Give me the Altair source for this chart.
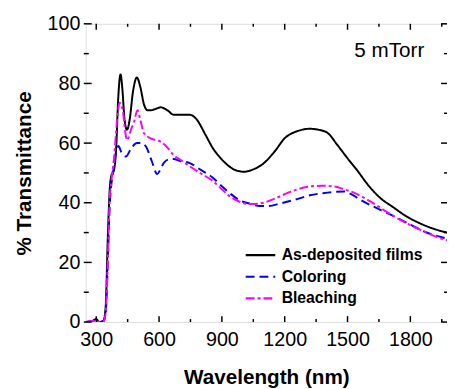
import altair as alt
import pandas as pd

series_names = ["As-deposited films", "Coloring", "Bleaching"]
series_colors = ["#000000", "#0000ff", "#ff00ff"]

asdep_nm = [250, 280, 300, 315, 335, 345, 356, 365, 372, 385, 395, 405, 416, 425, 435, 447, 460, 475, 494, 510, 528, 545, 560, 585, 607, 640, 670, 700, 747, 779, 820, 857, 900, 935, 970, 1006, 1050, 1092, 1150, 1201, 1260, 1319, 1360, 1405, 1450, 1499, 1550, 1592, 1650, 1718, 1780, 1843, 1910, 1975]
asdep_t = [0, 0.3, 1, 0, 0.5, 5, 30, 45, 49, 51, 58, 75, 83, 78, 68, 64.5, 68, 77, 82, 79, 73, 71, 71, 71.5, 72, 71, 69.5, 69.5, 69.5, 68, 63, 58.3, 54.5, 52.2, 50.8, 50.4, 51.2, 52.8, 57, 61.7, 64, 64.8, 64.5, 63.4, 59.5, 55, 50.5, 46.5, 42, 38.5, 35.5, 33.2, 31.3, 30]

color_nm = [250, 300, 315, 335, 345, 356, 364, 372, 380, 392, 406, 420, 442, 465, 494, 515, 540, 565, 591, 605, 622, 645, 669, 700, 747, 800, 857, 900, 935, 980, 1037, 1080, 1123, 1180, 1248, 1320, 1405, 1483, 1520, 1561, 1630, 1718, 1800, 1874, 1930, 1975]
color_t = [0, 0.5, 0, 0.3, 3, 22, 38.5, 46, 50, 56, 59, 57, 55.5, 58, 60, 60, 58.5, 54, 49.6, 51, 53.3, 54.5, 54.7, 54, 53.3, 51, 48.4, 45.5, 43.4, 41, 39.6, 38.9, 38.9, 39.8, 41, 42.5, 43.4, 43.8, 42.8, 41, 38.5, 35.6, 32.7, 30.1, 28.8, 28]

bleach_nm = [250, 300, 315, 335, 345, 356, 364, 372, 385, 400, 411, 427, 438, 447, 455, 466, 480, 497, 510, 528, 560, 607, 640, 669, 700, 747, 800, 857, 900, 935, 980, 1029, 1060, 1092, 1150, 1217, 1270, 1326, 1380, 1436, 1480, 1530, 1600, 1718, 1800, 1874, 1930, 1975]
bleach_t = [0, 0.5, 0, 0.3, 3, 22, 40.7, 47, 55, 68, 73.5, 70.8, 64, 61, 62, 64.5, 67, 71, 68, 63.3, 61.6, 60.5, 58.5, 56, 54.5, 52.2, 49.8, 47.3, 44.5, 42.3, 40.5, 39.6, 39.6, 39.9, 41.3, 43.4, 44.7, 45.5, 45.7, 45.5, 44.6, 43.4, 40.8, 35.6, 32.5, 30.1, 28.4, 27.4]

x_major = [300, 600, 900, 1200, 1500, 1800]
x_minor = [450, 750, 1050, 1350, 1650, 1950]
y_major = [0, 20, 40, 60, 80, 100]
y_minor = [10, 30, 50, 70, 90]
annotation = "5 mTorr"

W, H = 367, 303
FONT = "Liberation Sans"

rows = []
for name, xs, ys in zip(series_names, [asdep_nm, color_nm, bleach_nm], [asdep_t, color_t, bleach_t]):
    for xv, yv in zip(xs, ys):
        rows.append({"nm": xv, "T": yv, "series": name})
df = pd.DataFrame(rows)

xscale = alt.Scale(domain=[250, 1975], nice=False, zero=False)
yscale = alt.Scale(domain=[0, 100], nice=False)

lines = alt.Chart(df).mark_line(strokeWidth=2, interpolate="monotone", clip=True).encode(
    x=alt.X("nm:Q", scale=xscale,
            axis=alt.Axis(values=x_major, format="d", title="Wavelength (nm)", grid=False, domain=False, ticks=False,
                          labelFont=FONT, labelFontSize=20, labelColor="black", labelPadding=8,
                          titleFont=FONT, titleFontSize=21, titleFontWeight="bold", titleColor="black",
                          titlePadding=17)),
    y=alt.Y("T:Q", scale=yscale,
            axis=alt.Axis(values=y_major, title="% Transmittance", grid=False, domain=False, ticks=False,
                          labelFont=FONT, labelFontSize=20, labelColor="black", labelPadding=6,
                          titleFont=FONT, titleFontSize=21, titleFontWeight="bold", titleColor="black",
                          titlePadding=13)),
    color=alt.Color("series:N", scale=alt.Scale(domain=series_names, range=series_colors),
                    legend=alt.Legend(title=None, orient="none", legendX=161, legendY=225,
                                      symbolType="stroke", symbolSize=900, symbolStrokeWidth=2.2,
                                      clipHeight=20, rowPadding=2, labelOffset=5,
                                      labelFont=FONT, labelFontSize=16, labelFontWeight="bold",
                                      labelColor="black")),
    strokeDash=alt.StrokeDash("series:N", scale=alt.Scale(domain=series_names, range=[[1, 0], [9, 5], [9, 3, 3, 3]]),
                              legend=None),
    order=alt.Order("nm:Q"),
)

def rule_layer(vals, axis_field, **enc):
    d = pd.DataFrame({"v": vals})
    if axis_field == "x":
        return alt.Chart(d).mark_rule(color="black", strokeWidth=1.5).encode(x=alt.X("v:Q", scale=xscale), **enc)
    return alt.Chart(d).mark_rule(color="black", strokeWidth=1.5).encode(y=alt.Y("v:Q", scale=yscale), **enc)

ticks = [
    rule_layer(x_major, "x", y=alt.value(H), y2=alt.value(H - 6)),
    rule_layer(x_minor, "x", y=alt.value(H), y2=alt.value(H - 3)),
    rule_layer(x_major, "x", y=alt.value(0), y2=alt.value(6)),
    rule_layer(x_minor, "x", y=alt.value(0), y2=alt.value(3)),
    rule_layer(y_major, "y", x=alt.value(-2), x2=alt.value(6)),
    rule_layer(y_minor, "y", x=alt.value(-2), x2=alt.value(3)),
    rule_layer(y_major, "y", x=alt.value(W), x2=alt.value(W - 6)),
    rule_layer(y_minor, "y", x=alt.value(W), x2=alt.value(W - 3)),
]

label = alt.Chart(pd.DataFrame({"t": [annotation]})).mark_text(
    font=FONT, fontSize=21, color="black", align="right", baseline="middle"
).encode(x=alt.value(W - 23), y=alt.value(28), text="t:N")

chart = alt.layer(lines, *ticks, label).properties(
    width=W, height=H,
    autosize=alt.AutoSizeParams(type="none"),
    padding={"left": 79, "top": 13, "right": 0, "bottom": 68},
).configure_view(stroke="black", strokeWidth=3).configure(background="white")

chart.save("out.html", embed_options={"renderer": "svg", "actions": False})
